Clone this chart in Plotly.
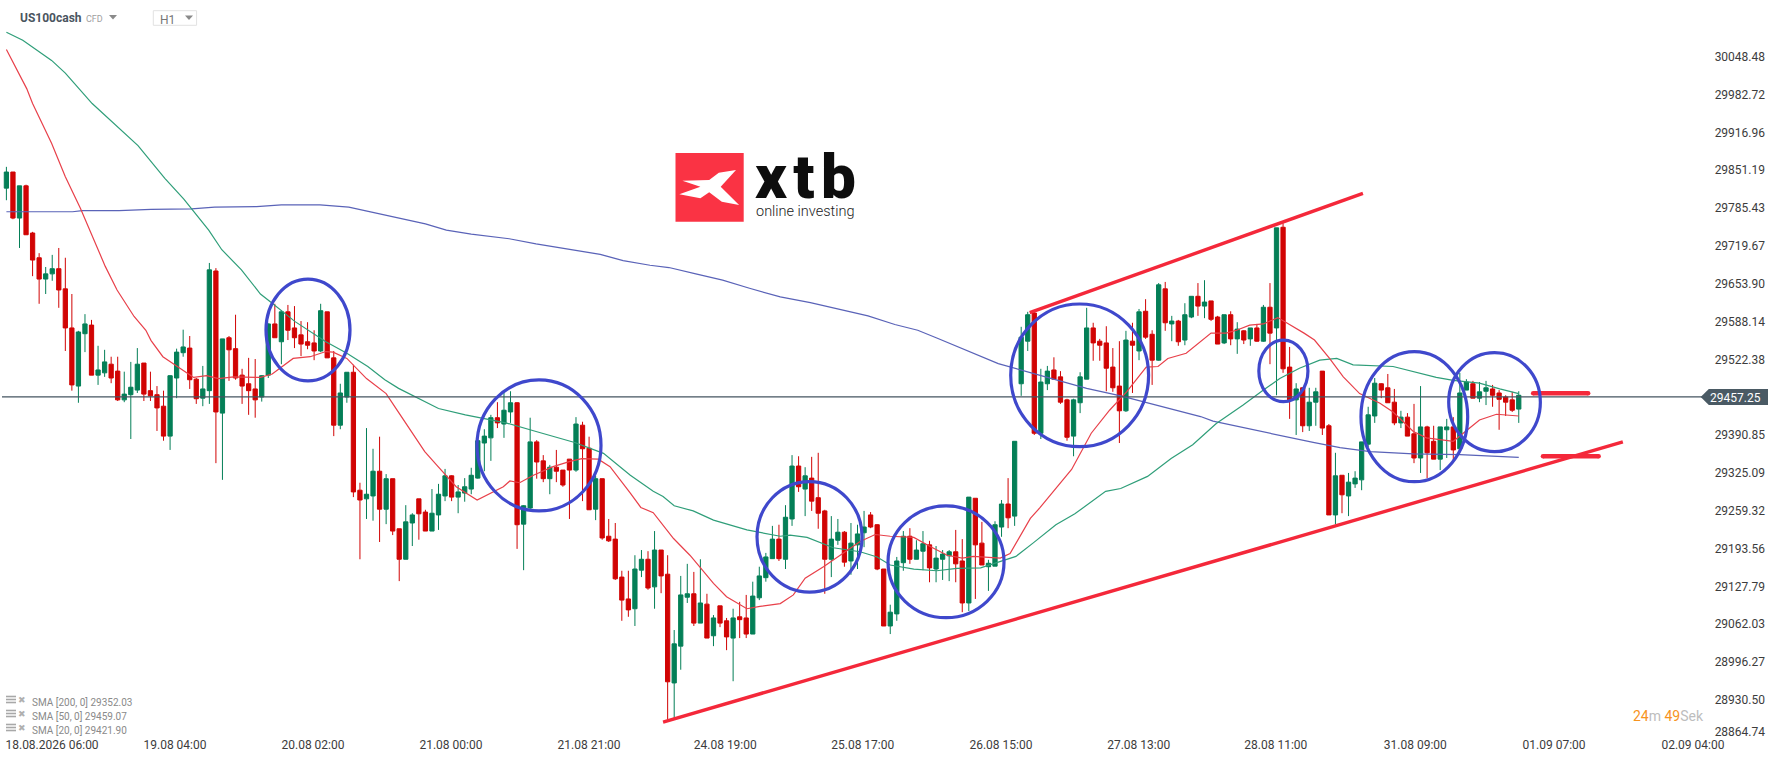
import plotly.graph_objects as go

# candles, one per hour
open_px = [29820,29848,29768,29824,29742,29699,29662,29671,29680,29645,
           29577,29476,29567,29582,29495,29499,29514,29502,29452,29461,
           29469,29516,29468,29461,29441,29389,29490,29534,29542,29488,
           29455,29468,29676,29429,29560,29541,29495,29480,29471,29457,
           29495,29584,29553,29605,29577,29565,29553,29551,29537,29605,
           29525,29408,29457,29500,29295,29280,29285,29328,29262,29315,
           29228,29175,29238,29280,29257,29224,29252,29285,29320,29283,
           29290,29297,29316,29377,29386,29421,29410,29431,29447,29236,
           29264,29379,29346,29315,29335,29330,29349,29330,29408,29368,
           29262,29315,29215,29210,29144,29106,29089,29156,29175,29127,
           29191,29149,28960,29024,29109,29115,29064,29097,29042,29094,
           29068,29038,29075,29073,29045,29108,29143,29176,29210,29175,
           29245,29337,29297,29316,29282,29259,29175,29208,29222,29172,
           29200,29221,29252,29235,29158,29059,29080,29169,29215,29175,
           29189,29200,29158,29175,29181,29188,29172,29099,29281,29203,
           29162,29163,29231,29271,29250,29480,29554,29603,29394,29480,
           29504,29492,29452,29389,29447,29488,29577,29554,29551,29509,
           29476,29433,29554,29537,29606,29566,29521,29645,29584,29589,
           29556,29596,29632,29615,29624,29596,29551,29600,29558,29572,
           29558,29577,29554,29613,29577,29752,29509,29452,29473,29407,
           29448,29502,29407,29252,29321,29285,29306,29313,29375,29424,
           29480,29473,29448,29412,29422,29393,29351,29405,29380,29349,
           29400,29405,29367,29469,29480,29455,29467,29471,29464,29457,
           29452,29436]
close_px = [29848,29768,29824,29739,29695,29662,29671,29680,29643,29577,
            29478,29570,29584,29495,29504,29518,29490,29452,29462,29474,
            29514,29462,29459,29438,29389,29494,29535,29544,29487,29454,
            29471,29678,29431,29558,29539,29490,29476,29468,29452,29494,
            29584,29560,29605,29573,29560,29549,29547,29537,29607,29525,
            29408,29464,29500,29292,29278,29288,29328,29262,29315,29224,
            29175,29240,29252,29254,29224,29255,29288,29320,29283,29292,
            29301,29321,29381,29389,29421,29412,29434,29447,29235,29268,
            29379,29344,29315,29335,29328,29304,29330,29410,29367,29261,
            29315,29212,29207,29141,29104,29087,29158,29175,29125,29191,
            29146,28962,29028,29113,29115,29064,29099,29038,29073,29064,
            29040,29073,29070,29045,29111,29146,29179,29210,29176,29248,
            29337,29301,29320,29276,29255,29175,29210,29222,29170,29203,
            29219,29231,29231,29158,29059,29083,29172,29215,29175,29191,
            29202,29160,29177,29184,29188,29167,29099,29283,29200,29165,
            29168,29235,29271,29247,29380,29561,29600,29394,29483,29502,
            29488,29448,29387,29452,29492,29577,29551,29547,29507,29473,
            29433,29556,29547,29605,29561,29521,29652,29586,29589,29553,
            29600,29632,29615,29622,29592,29549,29600,29558,29575,29556,
            29577,29554,29613,29568,29751,29506,29452,29471,29407,29448,
            29466,29403,29252,29320,29287,29309,29316,29379,29426,29481,
            29469,29447,29412,29422,29389,29351,29405,29360,29349,29405,
            29405,29365,29464,29483,29455,29466,29473,29460,29453,29448,
            29434,29460]
high_px = [29857,29848,29824,29826,29744,29707,29683,29704,29716,29699,
           29636,29572,29601,29591,29546,29539,29527,29527,29501,29518,
           29542,29516,29501,29476,29468,29495,29541,29574,29563,29490,
           29511,29690,29681,29558,29563,29600,29506,29525,29523,29495,
           29585,29619,29608,29617,29615,29589,29587,29573,29619,29605,
           29537,29480,29500,29513,29308,29403,29367,29388,29323,29315,
           29228,29269,29255,29280,29261,29297,29306,29332,29321,29304,
           29316,29334,29382,29401,29426,29448,29467,29467,29448,29269,
           29421,29382,29356,29339,29365,29330,29349,29422,29414,29388,
           29320,29315,29245,29238,29155,29155,29182,29191,29189,29224,
           29191,29182,29052,29146,29167,29153,29175,29115,29078,29094,
           29073,29089,29101,29113,29136,29162,29186,29233,29235,29269,
           29356,29354,29335,29353,29360,29261,29250,29245,29224,29238,
           29235,29259,29257,29236,29158,29096,29179,29224,29229,29208,
           29224,29207,29198,29191,29191,29226,29210,29283,29281,29240,
           29174,29241,29278,29316,29380,29579,29605,29608,29506,29511,
           29526,29502,29454,29454,29500,29612,29586,29558,29580,29542,
           29554,29572,29586,29610,29627,29573,29655,29657,29598,29591,
           29620,29632,29655,29660,29624,29598,29600,29606,29587,29573,
           29577,29584,29617,29655,29751,29759,29544,29481,29473,29473,
           29473,29502,29410,29360,29321,29325,29328,29379,29440,29490,
           29481,29497,29471,29433,29429,29445,29476,29407,29407,29405,
           29419,29422,29499,29488,29485,29483,29485,29478,29469,29460,
           29466,29467]
low_px = [29799,29766,29716,29739,29667,29619,29636,29659,29612,29537,
          29468,29447,29535,29495,29478,29492,29481,29450,29448,29384,
          29464,29450,29450,29398,29381,29365,29455,29527,29471,29445,
          29441,29445,29342,29313,29485,29487,29445,29426,29421,29449,
          29490,29560,29514,29556,29542,29528,29540,29521,29535,29525,
          29389,29401,29447,29283,29175,29245,29242,29205,29236,29217,
          29137,29175,29198,29209,29224,29224,29226,29276,29276,29255,
          29275,29288,29315,29328,29346,29403,29386,29412,29193,29156,
          29261,29315,29309,29288,29309,29301,29245,29327,29276,29261,
          29243,29209,29205,29139,29068,29075,29059,29144,29122,29089,
          29116,28896,28899,28983,29099,29059,29064,29038,29024,29057,
          29017,28963,29038,29038,29045,29104,29136,29176,29172,29158,
          29233,29292,29250,29259,29228,29115,29144,29200,29162,29148,
          29158,29196,29229,29156,29059,29045,29068,29155,29167,29175,
          29156,29135,29135,29139,29137,29135,29083,29085,29106,29165,
          29120,29163,29214,29229,29233,29459,29537,29391,29384,29469,
          29488,29445,29381,29354,29429,29488,29520,29520,29467,29466,
          29377,29431,29464,29521,29558,29478,29520,29572,29554,29546,
          29547,29594,29598,29594,29589,29549,29549,29547,29532,29549,
          29546,29553,29553,29514,29460,29499,29419,29391,29396,29398,
          29407,29391,29252,29236,29255,29250,29299,29295,29370,29412,
          29455,29447,29408,29403,29389,29342,29325,29316,29349,29330,
          29351,29346,29367,29469,29455,29448,29443,29440,29400,29424,
          29431,29412]
bars = list(range(len(open_px)))

# moving averages, read at the visible bends (bar number, price)
sma200_x = [0,10.1,11.6,17.2,22.1,28.3,31.8,38.2,42,47.9,52.3,54.3,57.5,61,64,67.2,71,76.8,80.9,90.7,
            94.2,98.3,101.2,105.3,109.4,113.5,118.2,122.8,128.1,131.6,135.7,139.2,142.2,146.3,151.5,156.8,
            165,170.2,176.1,182.4,184.3,189.9,194.5,199.6,203.7,208.3,214.9,222,231]
sma200_y = [29779,29779,29781,29781,29783,29784,29787,29788,29791,29791,29787,29782,29775,29766,29758,29747,29740,29732,29723,29705,
            29694,29686,29682,29671,29660,29646,29631,29621,29607,29598,29583,29573,29559,29539,29515,29498,
            29472,29459,29441,29423,29415,29401,29390,29378,29369,29362,29358,29357,29352]
sma50_x = [0,2.5,6.9,9,13.1,17.7,20.1,24.2,27.1,30.9,32.9,35.9,38.8,40.6,44.1,48.8,52,55.2,57.8,59.9,66,70.1,76.3,80.9,86.8,91.2,
           95.3,98.8,100.3,102,104.9,108,113.1,118.2,119.7,122.3,126.3,130.4,133,135,138.6,142.1,145.2,148.8,151.8,154.2,156.8,
           160.3,163.2,167.9,170.2,174.3,177.9,181.2,184.8,188.9,192,194.5,197.5,200.6,203.2,205.7,211.8,215.9,218.4,221,225,228.1,231]
sma50_y = [30091,30077,30042,30020,29967,29918,29894,29837,29801,29747,29713,29678,29636,29620,29588,29553,29533,29510,29487,29472,29437,29426,29412,29397,29378,29359,
           29321,29293,29284,29268,29259,29243,29226,29215,29217,29213,29195,29188,29179,29165,29158,29155,29159,29160,29171,29180,29203,
           29235,29254,29293,29298,29319,29350,29374,29411,29443,29469,29489,29507,29521,29524,29513,29510,29498,29491,29486,29481,29471,29463]
sma20_x = [0,3.1,4,6.9,9,11.3,15.1,16.9,19.5,21.3,22.1,23.9,27.7,28.6,30.6,32.4,34.7,38.8,40.6,43.8,46.4,48.8,49.9,52,55,58,59.8,62.1,63.9,65.7,68.7,71.9,74.3,75.9,76.9,
           78.4,80.5,83.5,86.1,87.9,90.4,92.2,95.3,96.9,98.8,101.9,104.4,108,110,113.1,115.1,118.2,120.2,122,124.8,127.4,130.4,132.7,135,138.6,141.1,143.7,146,147.7,151.8,153.3,
           156.4,157.9,162.7,165.7,168.5,171.1,174.1,175.9,177.4,180.2,184,186.3,187.9,189.9,192,194.2,196,198.2,199.8,202.1,204.2,206.7,209.8,211.8,214.9,216.9,221,222.5,225,227.6,231]
sma20_y = [30061,29993,29967,29898,29840,29785,29684,29643,29597,29573,29555,29527,29498,29491,29494,29489,29492,29491,29497,29524,29527,29536,29535,29524,29489,29463,29432,29394,29362,29339,29301,29278,29292,29301,29311,
           29308,29321,29336,29345,29350,29349,29336,29290,29265,29256,29211,29182,29133,29110,29089,29093,29098,29113,29142,29162,29182,29206,29218,29215,29213,29197,29182,29177,29180,29177,29185,
           29246,29265,29331,29394,29434,29466,29509,29510,29524,29533,29568,29568,29573,29582,29584,29595,29583,29568,29556,29524,29492,29463,29446,29431,29397,29386,29380,29394,29417,29427,29424]

# hand drawn marks on top of the chart
support_x = [100.3, 246.9]
support_y = [28892, 29378.8]
resist_x = [156.3, 207.2]
resist_y = [29603.5, 29811]
level_hi_x = [233.2, 241.6]
level_hi_y = [29463.4, 29463.4]
level_lo_x = [234.7, 243.2]
level_lo_y = [29354, 29354]
circles = [(39.65, 52.48, 29485, 29662), (71.88, 90.82, 29259, 29486.6),
           (114.65, 130.69, 29118, 29310), (134.66, 152.38, 29073.4, 29267.6),
           (153.4, 174.46, 29370.6, 29618.6), (191.3, 198.8, 29448.8, 29556),
           (206.9, 223.2, 29309.8, 29535.7), (220.3, 234.3, 29362, 29534)]

last_price = 29457.25
y_tick_vals = [30048.48,29982.72,29916.96,29851.19,29785.43,29719.67,29653.90,29588.14,29522.38,
               29390.85,29325.09,29259.32,29193.56,29127.79,29062.03,28996.27,28930.50,28875]
y_tick_text = ['30048.48','29982.72','29916.96','29851.19','29785.43','29719.67','29653.90','29588.14','29522.38',
               '29390.85','29325.09','29259.32','29193.56','29127.79','29062.03','28996.27','28930.50','28864.74']
x_tick_vals = [6.97,25.75,46.83,67.9,89.0,109.8,130.8,151.9,172.95,193.9,215.2,236.4,257.6]
x_tick_text = ['18.08.2026 06:00','19.08 04:00','20.08 02:00','21.08 00:00','21.08 21:00','24.08 19:00',
               '25.08 17:00','26.08 15:00','27.08 13:00','28.08 11:00','31.08 09:00','01.09 07:00','02.09 04:00']
sma_labels = ['SMA [200, 0] 29352.03', 'SMA [50, 0] 29459.07', 'SMA [20, 0] 29421.90']

W, H = 1768, 761
PLOT_H = 736
FONT = 'Roboto'
RED_MARK = '#f4283a'
BLUE_MARK = '#3f48cc'


def xp(px):
    return px / W


def yp(py):
    return 1 - py / PLOT_H


def poly(pts):
    return 'M' + ' L'.join(f'{xp(a):.5f},{yp(b):.5f}' for a, b in pts) + ' Z'


def text(px, py, s, size, color, anchor='left', weight=None):
    return dict(x=xp(px), y=yp(py), xref='paper', yref='paper', text=s, showarrow=False,
                xanchor=anchor, yanchor='middle', align=anchor,
                font=dict(family=FONT, size=size, color=color, weight=weight))


fig = go.Figure()
fig.add_trace(go.Candlestick(x=bars, open=open_px, high=high_px, low=low_px, close=close_px,
                             increasing=dict(line=dict(color='#047f57', width=1), fillcolor='#047f57'),
                             decreasing=dict(line=dict(color='#d10404', width=1), fillcolor='#d10404'),
                             whiskerwidth=0, showlegend=False))
fig.add_trace(go.Scatter(x=sma200_x, y=sma200_y, mode='lines', line=dict(color='#5a63b8', width=1.2)))
fig.add_trace(go.Scatter(x=sma50_x, y=sma50_y, mode='lines', line=dict(color='#2f9e79', width=1.2)))
fig.add_trace(go.Scatter(x=sma20_x, y=sma20_y, mode='lines', line=dict(color='#e8404a', width=1.2)))
fig.add_trace(go.Scatter(x=support_x, y=support_y, mode='lines', line=dict(color=RED_MARK, width=3.4)))
fig.add_trace(go.Scatter(x=resist_x, y=resist_y, mode='lines', line=dict(color=RED_MARK, width=3.4)))
for lx, ly in ((level_hi_x, level_hi_y), (level_lo_x, level_lo_y)):
    fig.add_trace(go.Scatter(x=lx, y=ly, mode='lines+markers', line=dict(color=RED_MARK, width=4.5),
                             marker=dict(color=RED_MARK, size=4.5)))

shapes = [dict(type='line', xref='paper', yref='y', x0=xp(2), x1=xp(1702), y0=last_price, y1=last_price,
               line=dict(color='#445560', width=1.2), layer='above')]
for x0, x1, y0, y1 in circles:
    shapes.append(dict(type='circle', xref='x', yref='y', x0=x0, x1=x1, y0=y0, y1=y1,
                       line=dict(color=BLUE_MARK, width=3.2), layer='above'))

# price tag
shapes.append(dict(type='path', xref='paper', yref='paper', fillcolor='#4a5a64', line=dict(width=0),
                   path=poly([(1700.7, 397), (1708.8, 389), (1768, 389), (1768, 405), (1708.8, 405)])))
# logo
shapes.append(dict(type='rect', xref='paper', yref='paper', x0=xp(675.5), x1=xp(743.7), y0=yp(153), y1=yp(221.7),
                   fillcolor='#fa3344', line=dict(width=0)))
shapes.append(dict(type='path', xref='paper', yref='paper', fillcolor='white', line=dict(width=0),
                   path=poly([(682.4, 180.7), (709.2, 180), (718.8, 172.7), (736, 170), (720.7, 186.7), (739.1, 205),
                              (721.8, 201.7), (709.2, 192.3), (700.4, 198.3), (679.3, 194.3), (700.4, 186.7)])))
# toolbar
shapes.append(dict(type='path', xref='paper', yref='paper', fillcolor='#8a8a8a', line=dict(width=0),
                   path=poly([(109, 15), (117, 15), (113, 19.5)])))
shapes.append(dict(type='rect', xref='paper', yref='paper', x0=xp(153.3), x1=xp(196.6), y0=yp(10.7), y1=yp(25.3),
                   fillcolor='white', line=dict(color='#e2e2e2', width=1)))
shapes.append(dict(type='path', xref='paper', yref='paper', fillcolor='#8a8a8a', line=dict(width=0),
                   path=poly([(185, 15.5), (193, 15.5), (189, 20)])))
# legend icons
for row_y in (700, 714, 728):
    for off in (-3.5, -0.5, 2.5):
        shapes.append(dict(type='line', xref='paper', yref='paper', x0=xp(6), x1=xp(16), y0=yp(row_y + off), y1=yp(row_y + off),
                           line=dict(color='#a8a8a8', width=1.6)))

annotations = [
    text(18, 18, '<b>US100cash</b>', 12, '#4a5560'),
    text(83.5, 19, 'CFD', 9, '#a0a0a0'),
    text(158, 19.5, 'H1', 12, '#777777'),
    # hair spaces open the letters up to the logo's width
    text(753, 176.6, 'x\u200at\u200ab', 62, '#0d0d0d', 'left', 900),
    text(754, 211, 'online investing', 14.5, '#222222', 'left', 300),
    text(1763, 398, '29457.25', 12, '#ffffff', 'right'),
    text(1631, 716, '<span style="color:#f7931e">24</span>m <span style="color:#f7931e">49</span>Sek', 14, '#bdbdbd'),
]
for row_y, label in zip((702, 716, 730), sma_labels):
    annotations.append(text(29.5, row_y, label, 10, '#8a8a8a'))
    annotations.append(text(22, row_y - 2, '✖', 9, '#b0b0b0', 'center'))

fig.update_layout(
    width=W, height=H, margin=dict(l=0, r=0, t=0, b=H - PLOT_H),
    paper_bgcolor='white', plot_bgcolor='white', showlegend=False, boxgap=0.35, boxgroupgap=0,
    font=dict(family=FONT, size=12, color='#3c3c3c'),
    shapes=shapes, annotations=annotations,
    xaxis=dict(range=[-0.978, 269.07], rangeslider=dict(visible=False), showgrid=False, zeroline=False,
               showline=False, ticks='', tickmode='array', tickvals=x_tick_vals, ticktext=x_tick_text,
               tickfont=dict(family=FONT, size=12, color='#3c3c3c')),
    yaxis=dict(range=[28867.8, 30147], side='right', ticklabelposition='inside', ticklabeloverflow='allow',
               showgrid=False, zeroline=False, showline=False, ticks='', tickmode='array',
               tickvals=y_tick_vals, ticktext=y_tick_text,
               tickfont=dict(family=FONT, size=12, color='#3c3c3c')),
)

# page has a default body margin, the chart has to start at the window corner
fig.write_html("out.html", config={'displayModeBar': False},
               post_script="document.body.style.margin='0';document.documentElement.style.overflow='hidden';")
